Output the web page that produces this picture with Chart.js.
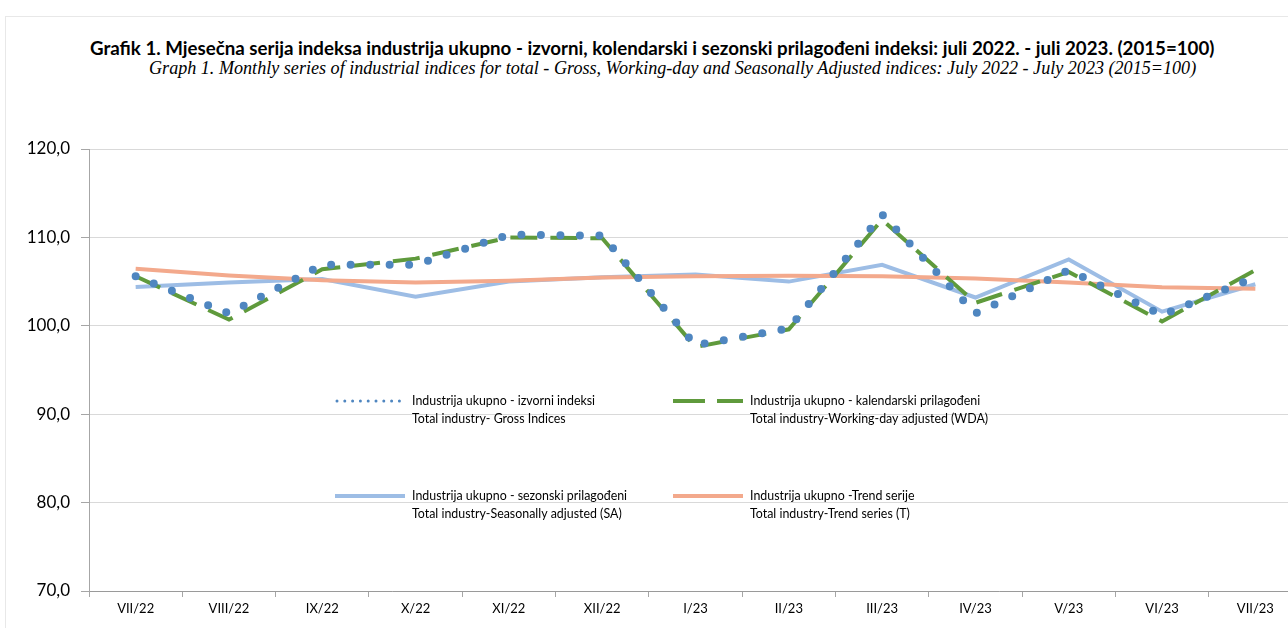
<!DOCTYPE HTML>
<html>
<head>
    <meta charset="utf-8">
    <script src="https://cdn.jsdelivr.net/npm/chart.js"></script>
    <style>
        body {
            margin: 0;
            width: 1288px;
            height: 628px;
            overflow: hidden;
            background: white;
            position: relative;
        }
        .frame {
            position: absolute;
            left: 5px;
            top: 16px;
            width: 1400px;
            height: 700px;
            border: 1px solid #e8e8e8;
        }
        .title {
            position: absolute;
            white-space: nowrap;
            color: #000;
            line-height: 1;
        }
        #t1 {
            left: 90px;
            top: 37px;
            font: bold 16px Lato, sans-serif;
        }
        #t2 {
            left: 149px;
            top: 58px;
            font: italic 16px "Liberation Serif", serif;
        }
        canvas {
            position: absolute;
            left: 0;
            top: 0;
        }
    </style>
</head>
<body>
    <div class="frame"></div>
    <div class="title" id="t1">Grafik 1. Mjesečna serija indeksa industrija ukupno - izvorni, kolendarski i sezonski prilagođeni indeksi: juli 2022. - juli 2023. (2015=100)</div>
    <div class="title" id="t2">Graph 1. Monthly series of industrial indices for total - Gross, Working-day and Seasonally Adjusted indices: July 2022 - July 2023 (2015=100)</div>
    <canvas id="chart" width="1302" height="628"></canvas>

    <script>
        const categories = ['VII/22', 'VIII/22', 'IX/22', 'X/22', 'XI/22', 'XII/22', 'I/23', 'II/23', 'III/23', 'IV/23', 'V/23', 'VI/23', 'VII/23'];
        const gross = [105.6, 101.4, 106.9, 106.9, 110.3, 110.2, 97.8, 99.7, 112.6, 101.4, 106.3, 101.2, 105.5];
        const wda = [105.6, 100.7, 106.4, 107.6, 110.0, 109.9, 97.6, 99.6, 112.0, 102.6, 106.1, 100.5, 106.3];
        const sa = [104.4, 104.9, 105.3, 103.3, 105.0, 105.5, 105.8, 105.0, 106.9, 103.2, 107.5, 101.6, 104.7];
        const trend = [106.45, 105.7, 105.15, 104.9, 105.1, 105.45, 105.6, 105.65, 105.6, 105.35, 104.9, 104.35, 104.2];

        const legendLabels = [
            ['Industrija ukupno - izvorni indeksi', 'Total industry- Gross Indices'],
            ['Industrija ukupno - kalendarski prilagođeni', 'Total industry-Working-day adjusted (WDA)'],
            ['Industrija ukupno - sezonski prilagođeni', 'Total industry-Seasonally adjusted (SA)'],
            ['Industrija ukupno -Trend serije', 'Total industry-Trend series (T)']
        ];
        const yTicks = [70, 80, 90, 100, 110, 120];

        // fit the title lines to the widths seen in the picture
        function fit(id, w) {
            const el = document.getElementById(id);
            const fs = parseFloat(getComputedStyle(el).fontSize);
            el.style.fontSize = (fs * w / el.getBoundingClientRect().width) + 'px';
        }
        fit('t1', 1125);
        fit('t2', 1048);

        // legend in the plot area, two lines per item
        const legendSpots = [
            {x: 335, y: 401, sw: 3, dash: [0, 7.8]},
            {x: 673, y: 401, sw: 4, dash: [32, 12]},
            {x: 335, y: 496, sw: 4, dash: []},
            {x: 673, y: 496, sw: 4, dash: []}
        ];
        const insideLegend = {
            id: 'insideLegend',
            afterDatasetsDraw(chart) {
                const ctx = chart.ctx;
                ctx.save();
                legendSpots.forEach((p, i) => {
                    const ds = chart.data.datasets[i];
                    ctx.beginPath();
                    ctx.strokeStyle = ds.borderColor;
                    ctx.lineWidth = p.sw;
                    ctx.lineCap = i === 0 ? 'round' : 'butt';
                    ctx.setLineDash(p.dash);
                    ctx.moveTo(p.x + (i === 0 ? 2 : 0), p.y);
                    ctx.lineTo(p.x + 70, p.y);
                    ctx.stroke();
                    ctx.setLineDash([]);
                    ctx.fillStyle = '#000';
                    ctx.font = '12.4px Lato, sans-serif';
                    ctx.textBaseline = 'middle';
                    ctx.fillText(ds.legendText[0], p.x + 77, p.y);
                    ctx.fillText(ds.legendText[1], p.x + 77, p.y + 18);
                });
                ctx.restore();
            }
        };

        new Chart(document.getElementById('chart'), {
            type: 'line',
            data: {
                labels: categories,
                datasets: [{
                    label: 'gross',
                    legendText: legendLabels[0],
                    data: gross,
                    borderColor: '#4f86c0',
                    borderWidth: 8,
                    borderDash: [0, 19.5],
                    borderCapStyle: 'round',
                    pointRadius: 0,
                    order: 1
                }, {
                    label: 'wda',
                    legendText: legendLabels[1],
                    data: wda,
                    borderColor: '#5f9a3c',
                    borderWidth: 4,
                    borderDash: [27, 13],
                    pointRadius: 0,
                    order: 2
                }, {
                    label: 'sa',
                    legendText: legendLabels[2],
                    data: sa,
                    borderColor: '#9dbde5',
                    borderWidth: 4,
                    pointRadius: 0,
                    order: 4
                }, {
                    label: 'trend',
                    legendText: legendLabels[3],
                    data: trend,
                    borderColor: '#f3a98c',
                    borderWidth: 4,
                    pointRadius: 0,
                    order: 3
                }]
            },
            options: {
                responsive: false,
                animation: false,
                devicePixelRatio: 1,
                layout: {padding: {top: 149, left: 0, right: 0, bottom: 0}},
                plugins: {
                    legend: {display: false},
                    tooltip: {enabled: false}
                },
                scales: {
                    x: {
                        offset: true,
                        grid: {
                            offset: true,
                            drawOnChartArea: false,
                            drawTicks: true,
                            tickLength: 6,
                            color: '#a6a6a6'
                        },
                        border: {color: '#9a9a9a', width: 1},
                        ticks: {
                            color: '#000',
                            font: {family: 'Lato', size: 13},
                            maxRotation: 0,
                            padding: 4
                        },
                        afterFit(s) { s.height = 37; }
                    },
                    y: {
                        min: 70,
                        max: 120,
                        afterBuildTicks(s) { s.ticks = yTicks.map(v => ({value: v})); },
                        grid: {
                            color: '#d9d9d9',
                            tickColor: '#a6a6a6',
                            tickLength: 8
                        },
                        border: {color: '#a6a6a6', width: 1},
                        ticks: {
                            color: '#000',
                            font: {family: 'Lato', size: 17},
                            padding: 11,
                            callback: v => v.toFixed(1).replace('.', ',')
                        },
                        afterFit(s) { s.width = 89; }
                    }
                }
            },
            plugins: [insideLegend]
        });
    </script>
</body>
</html>
